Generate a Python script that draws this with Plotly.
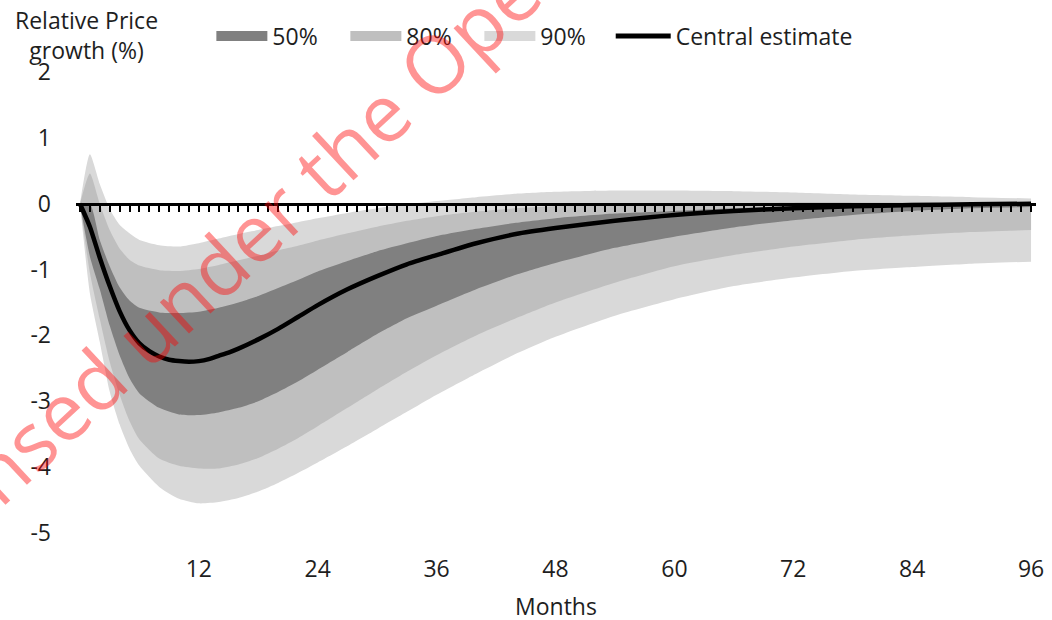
import plotly.graph_objects as go

# ---------------- data ----------------
band_months = [0, 1, 2, 3, 4, 5, 6, 8, 10, 12, 14, 16, 18, 20, 22, 24, 27, 30, 33, 36,
               40, 44, 48, 54, 60, 66, 72, 78, 84, 90, 96]
upper90 = [0, 0.75, 0.30, -0.08, -0.32, -0.45, -0.55, -0.63, -0.65, -0.60, -0.53, -0.46,
           -0.40, -0.34, -0.28, -0.22, -0.14, -0.07, -0.01, 0.04, 0.10, 0.15, 0.18, 0.20,
           0.20, 0.19, 0.17, 0.14, 0.12, 0.10, 0.08]
lower90 = [0, -1.36, -2.10, -2.85, -3.35, -3.72, -3.98, -4.30, -4.48, -4.55, -4.53, -4.47,
           -4.37, -4.24, -4.09, -3.93, -3.68, -3.42, -3.16, -2.90, -2.58, -2.28, -2.02, -1.70,
           -1.45, -1.25, -1.12, -1.02, -0.96, -0.91, -0.88]
upper80 = [0, 0.46, 0.0, -0.40, -0.68, -0.85, -0.94, -1.01, -1.02, -0.99, -0.93, -0.86,
           -0.79, -0.71, -0.64, -0.56, -0.45, -0.35, -0.26, -0.19, -0.12, -0.07, -0.04, -0.01,
           0.0, 0.01, 0.02, 0.02, 0.02, 0.02, 0.02]
lower80 = [0, -1.05, -1.75, -2.40, -2.90, -3.30, -3.58, -3.87, -3.98, -4.02, -4.02, -3.96,
           -3.86, -3.72, -3.56, -3.38, -3.10, -2.82, -2.55, -2.30, -2.00, -1.74, -1.50, -1.20,
           -0.95, -0.78, -0.65, -0.55, -0.48, -0.43, -0.40]
upper50 = [0, 0.0, -0.55, -0.95, -1.27, -1.47, -1.58, -1.65, -1.66, -1.64, -1.58, -1.50,
           -1.40, -1.28, -1.16, -1.03, -0.87, -0.72, -0.60, -0.49, -0.38, -0.29, -0.22, -0.15,
           -0.11, -0.07, -0.04, -0.02, -0.01, 0.0, 0.0]
lower50 = [0, -0.80, -1.30, -1.85, -2.30, -2.65, -2.88, -3.10, -3.20, -3.21, -3.17, -3.10,
           -3.00, -2.86, -2.70, -2.52, -2.25, -1.98, -1.74, -1.55, -1.30, -1.08, -0.90, -0.67,
           -0.50, -0.36, -0.25, -0.17, -0.11, -0.07, -0.05]

central_months = [0, 1, 2, 3, 4, 5, 6, 7, 8, 9, 10, 11, 12, 13, 14, 15, 16, 18, 20, 22, 24,
                  27, 30, 33, 36, 40, 44, 48, 54, 60, 66, 72, 78, 84, 90, 96]
central = [0, -0.35, -0.82, -1.25, -1.63, -1.92, -2.12, -2.24, -2.32, -2.37, -2.39, -2.40,
           -2.39, -2.36, -2.31, -2.26, -2.20, -2.06, -1.90, -1.72, -1.54, -1.30, -1.10, -0.92,
           -0.78, -0.60, -0.46, -0.37, -0.26, -0.17, -0.11, -0.07, -0.04, -0.02, -0.01, 0.0]

x_tick_vals = [12, 24, 36, 48, 60, 72, 84, 96]
y_tick_vals = [2, 1, 0, -1, -2, -3, -4, -5]
y_tick_text = ["2", "1", "0", "-1", "-2", "-3", "-4", "-5"]

band_names = ["90%", "80%", "50%"]
band_colors = ["#d9d9d9", "#bfbfbf", "#808080"]
band_uppers = [upper90, upper80, upper50]
band_lowers = [lower90, lower80, lower50]

FONT = "Open Sans"
TXT = "#1e1e1e"
FS = 23

fig = go.Figure()

# bands (light to dark, darker on top)
for name, col, up, lo in zip(band_names, band_colors, band_uppers, band_lowers):
    fig.add_trace(go.Scatter(x=band_months, y=lo, mode="lines",
                             line=dict(width=0, color=col, shape="spline", smoothing=0.6),
                             showlegend=False, hoverinfo="skip"))
    fig.add_trace(go.Scatter(x=band_months, y=up, mode="lines", fill="tonexty",
                             fillcolor=col,
                             line=dict(width=0, color=col, shape="spline", smoothing=0.6),
                             showlegend=False, hoverinfo="skip"))

# central estimate
fig.add_trace(go.Scatter(x=central_months, y=central, mode="lines",
                         line=dict(color="black", width=4.5, shape="spline", smoothing=0.6),
                         showlegend=False))

# legend entries
for name, col in zip(["50%", "80%", "90%"], ["#808080", "#bfbfbf", "#d9d9d9"]):
    fig.add_trace(go.Scatter(x=[None], y=[None], mode="lines", name=name,
                             line=dict(color=col, width=16), legend="legend"))
fig.add_trace(go.Scatter(x=[None], y=[None], mode="lines", name="Central estimate",
                         line=dict(color="black", width=5), legend="legend2"))

# dummy trace for the zero axis
fig.add_trace(go.Scatter(x=[None], y=[None], xaxis="x2", showlegend=False, hoverinfo="skip"))

y_min, y_max = -5, 2

fig.update_layout(
    width=1052, height=620,
    margin=dict(l=76, r=16, t=72, b=87, autoexpand=False),
    paper_bgcolor="white", plot_bgcolor="white",
    font=dict(family=FONT, size=FS, color=TXT),
    xaxis=dict(range=[-0.4, 96.5], tickvals=x_tick_vals, showgrid=False, zeroline=False,
               showline=False, ticks="", ticklabelstandoff=20, automargin=False,
               tickfont=dict(size=FS, color=TXT)),
    xaxis2=dict(overlaying="x", matches="x", anchor="free",
                position=(0 - y_min) / (y_max - y_min), automargin=False,
                showline=True, linecolor="black", linewidth=3,
                ticks="outside", tickmode="linear", tick0=0, dtick=1,
                ticklen=6, tickwidth=2, tickcolor="black",
                showticklabels=False, showgrid=False, zeroline=False),
    yaxis=dict(range=[y_min, y_max], tickvals=y_tick_vals, ticktext=y_tick_text,
               showgrid=False, zeroline=False, automargin=False,
               showline=False, ticks="", ticklabelstandoff=24,
               tickfont=dict(size=FS, color=TXT)),
    legend=dict(orientation="h", x=0.141, xanchor="left", y=1.078, yanchor="middle",
                itemwidth=51, entrywidth=68, entrywidthmode="pixels",
                font=dict(size=FS, color=TXT), bgcolor="rgba(0,0,0,0)",
                traceorder="normal"),
    legend2=dict(orientation="h", x=0.557, xanchor="left", y=1.078, yanchor="middle",
                 itemwidth=55, font=dict(size=FS, color=TXT), bgcolor="rgba(0,0,0,0)"),
    annotations=[
        dict(text="Relative Price<br>growth (%)", xref="paper", yref="paper",
             x=(86 - 76) / 960, y=1.152, xanchor="center", yanchor="top",
             showarrow=False, align="center", font=dict(size=FS, color=TXT)),
        dict(text="Months", xref="paper", yref="paper",
             x=0.5, y=-0.158, xanchor="center", yanchor="middle",
             showarrow=False, font=dict(size=FS, color=TXT)),
        dict(text="Licensed under the Open Government Licence", xref="paper", yref="paper",
             x=0.447, y=1.167, xanchor="center", yanchor="middle", textangle=-43,
             showarrow=False, font=dict(family=FONT, size=80, color="rgba(255,0,0,0.42)")),
    ],
)

fig.write_html("out.html", config={"displayModeBar": False},
               post_script="document.body.style.margin='0px';")
